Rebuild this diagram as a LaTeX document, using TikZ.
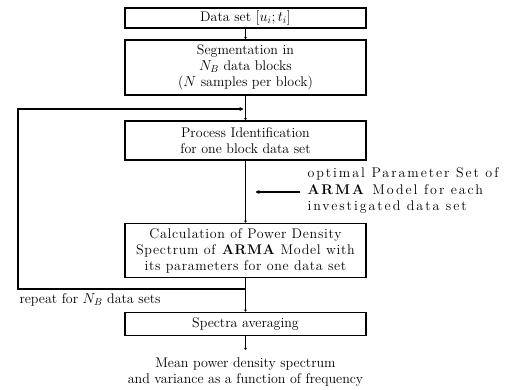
\documentclass[tikz,border=0pt]{standalone}
\usepackage{fontspec}
\setmainfont{Latin Modern Roman}
\newfontfamily\spacedfont{Latin Modern Roman}[LetterSpace=14]
\newfontfamily\lightspaced{Latin Modern Roman}[LetterSpace=5]
\usetikzlibrary{arrows.meta}
\begin{document}
\begin{tikzpicture}[x=1pt,y=-1pt,
  every node/.style={font=\fontsize{14}{16}\selectfont},
  box/.style={draw,line width=1.7pt,minimum width=241pt,inner sep=0pt,align=center},
  conn/.style={line width=1.7pt,-{Stealth[length=2pt,width=3pt]}},
  arr/.style={line width=1.7pt,-{Stealth[length=4pt,width=4pt]}}]
\useasboundingbox (0,0) rectangle (522,390);
\node[box,minimum height=20pt] (b1) at (245.5,18) {Data set $[u_i;t_i]$};
\node[box,minimum height=55pt] (b2) at (245.5,67.5) {Segmentation in\\$N_B$ data blocks\\($N$ samples per block)};
\node[box,minimum height=39pt] (b3) at (245.5,140.5) {Process Identification\\for one block data set};
\node[box,minimum height=54pt,font=\fontsize{14}{16}\selectfont\lightspaced] (b4) at (245.5,250.5) {Calculation of Power Density\\Spectrum of \textbf{ARMA} Model with\\its parameters for one data set};
\node[box,minimum height=23pt] (b5) at (245.5,324) {Spectra averaging};
\node[align=center,anchor=north] (out) at (245.5,354) {Mean power density spectrum\\and variance as a function of frequency};
\node[align=left,anchor=west,font=\fontsize{14}{16.5}\selectfont\spacedfont] (par) at (304,191) {optimal Parameter Set of\\\textbf{ARMA} Model for each\\investigated data set};
\node[anchor=west] (rep) at (16,300) {repeat for $N_B$ data sets};
\coordinate (j1) at (b2.south |- 0,109);
\coordinate (j2) at (b4.south |- 0,289);
\coordinate (l1) at (18,109);
\coordinate (l2) at (18,289);
\coordinate (pa) at (300,192);
\coordinate (pb) at (b3.south |- 0,192);
\coordinate (oe) at (b5.south |- 0,350);
\draw[conn] (b1) -- (b2);
\draw[conn] (b2) -- (b3);
\draw[conn] (b3) -- (b4);
\draw[conn] (b4) -- (b5);
\draw[conn] (b5) -- (oe);
\draw[arr] (j2) -- (l2) -- (l1) -- ([xshift=-2pt]j1);
\draw[arr] (pa) -- ([xshift=10pt]pb);
\end{tikzpicture}
\end{document}
